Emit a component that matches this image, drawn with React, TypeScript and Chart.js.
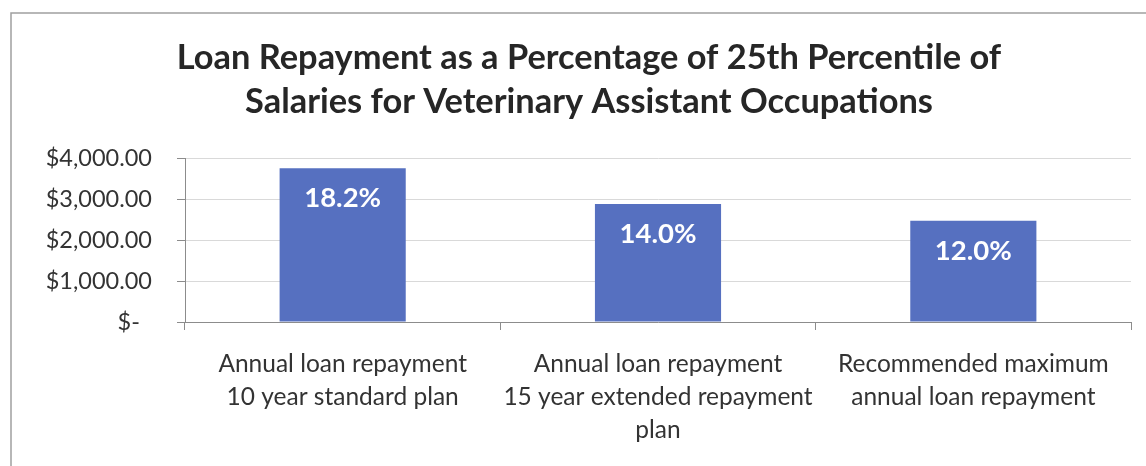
import React, { useEffect, useRef } from "react";
import { Chart, registerables } from "chart.js";

Chart.register(...registerables);

const titleLines = [
  "Loan Repayment as a Percentage of 25th Percentile of",
  "Salaries for Veterinary Assistant Occupations",
];
const categories = [
  ["Annual loan repayment", "10 year standard plan"],
  ["Annual loan repayment", "15 year extended repayment", "plan"],
  ["Recommended maximum", "annual loan repayment"],
];
const repaymentValues = [3750, 2880, 2470];
const percentLabels = ["18.2%", "14.0%", "12.0%"];
const yTickValues = [0, 1000, 2000, 3000, 4000];

const FONT = "Lato, 'DejaVu Sans', sans-serif";

function formatDollar(v: number): string {
  if (v === 0) return "$-  ";
  return "$" + v.toLocaleString("en-US", { minimumFractionDigits: 2, maximumFractionDigits: 2 });
}

const framePlugin = {
  id: "frame",
  beforeDraw(chart: any) {
    const ctx = chart.ctx;
    ctx.save();
    ctx.fillStyle = "#ffffff";
    ctx.fillRect(0, 0, chart.width, chart.height);
    ctx.strokeStyle = "#a0a0a0";
    ctx.lineWidth = 1.5;
    ctx.beginPath();
    ctx.moveTo(11, chart.height + 5);
    ctx.lineTo(11, 13);
    ctx.lineTo(chart.width + 5, 13);
    ctx.stroke();
    // title
    ctx.fillStyle = "#262626";
    ctx.font = `bold 34.4px ${FONT}`;
    ctx.textAlign = "center";
    ctx.textBaseline = "middle";
    titleLines.forEach((line, i) => {
      ctx.fillText(line, 589, 58 + i * 44);
    });
    ctx.restore();
  },
};

const barLabelPlugin = {
  id: "barLabels",
  afterDatasetsDraw(chart: any) {
    const ctx = chart.ctx;
    const meta = chart.getDatasetMeta(0);
    ctx.save();
    ctx.fillStyle = "#ffffff";
    ctx.font = `bold 27.5px ${FONT}`;
    ctx.textAlign = "center";
    ctx.textBaseline = "middle";
    meta.data.forEach((bar: any, i: number) => {
      ctx.fillText(percentLabels[i], bar.x, bar.y + 30);
    });
    ctx.restore();
  },
};

export default function App() {
  const canvasRef = useRef<HTMLCanvasElement | null>(null);

  useEffect(() => {
    document.body.style.margin = "0";
    document.body.style.overflow = "hidden";
    const canvas = canvasRef.current;
    if (!canvas) return;
    const chart = new Chart(canvas, {
      type: "bar",
      data: {
        labels: categories as any,
        datasets: [
          {
            data: repaymentValues,
            backgroundColor: "#5670c0",
            borderWidth: 0,
            barPercentage: 0.4,
            categoryPercentage: 1,
          },
        ],
      },
      options: {
        responsive: false,
        animation: false,
        layout: { padding: { top: 158, right: 15, bottom: 0, left: 0 } },
        plugins: {
          legend: { display: false },
          tooltip: { enabled: false },
          title: { display: false },
        },
        scales: {
          x: {
            grid: {
              offset: true,
              drawOnChartArea: false,
              drawTicks: true,
              tickLength: 8,
              tickColor: "#8c8c8c",
            },
            border: { display: true, color: "#8c8c8c", width: 1 },
            ticks: {
              color: "#333333",
              font: { family: FONT, size: 24.5, lineHeight: "33px" as any },
              padding: 18,
              maxRotation: 0,
              autoSkip: false,
            },
            afterFit(scale: any) {
              scale.height = 144;
            },
          },
          y: {
            min: 0,
            max: 4000,
            afterBuildTicks(scale: any) {
              scale.ticks = yTickValues.map((v) => ({ value: v }));
            },
            grid: {
              color: "#d9d9d9",
              lineWidth: 1,
              drawTicks: true,
              tickLength: 8,
              tickColor: "#8c8c8c",
            },
            border: { display: true, color: "#8c8c8c", width: 1 },
            ticks: {
              color: "#333333",
              font: { family: FONT, size: 23.5 },
              padding: 25,
              callback: (v: any) => formatDollar(Number(v)),
            },
            afterFit(scale: any) {
              scale.width = 185;
            },
          },
        },
      },
      plugins: [framePlugin, barLabelPlugin],
    });
    return () => chart.destroy();
  }, []);

  return (
    <div style={{ width: 1146, height: 466 }}>
      <canvas ref={canvasRef} width={1146} height={466} />
    </div>
  );
}
